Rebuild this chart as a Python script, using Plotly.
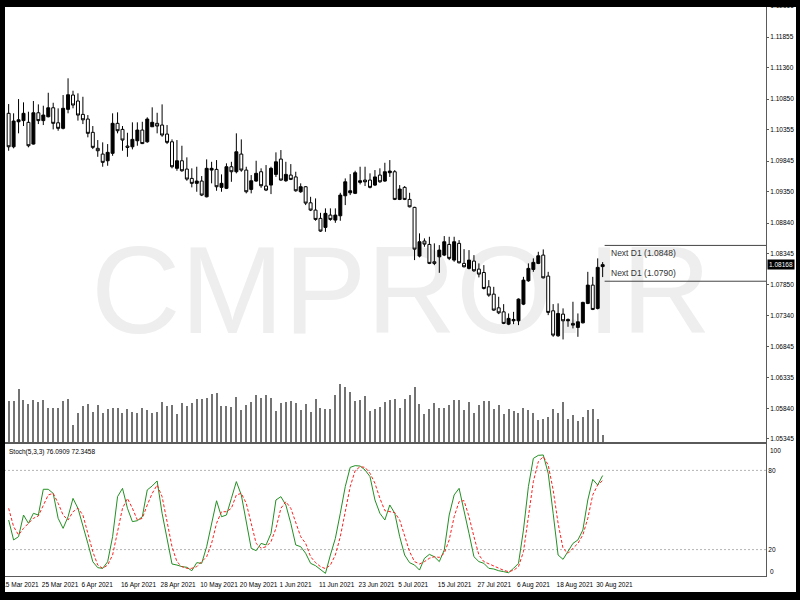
import numpy as np
import pandas as pd
import plotly.graph_objects as go

# ---------------- data ----------------
dates = pd.bdate_range("2021-03-16", "2021-08-31")  # 121 daily bars

opens = [1.10619,1.10077,1.10482,1.10501,1.10473,1.10121,1.10628,1.10501,1.10563,1.10709,
         1.10466,1.10376,1.10683,1.10915,1.10818,1.10602,1.10526,1.10311,1.10052,1.09959,
         1.09851,1.09971,1.10457,1.10359,1.10089,1.10077,1.10175,1.10348,1.10158,1.10401,
         1.10457,1.10429,1.10283,1.10158,1.09728,1.09851,1.09716,1.09565,1.09485,1.09522,
         1.09267,1.09700,1.09711,1.09420,1.09404,1.09754,1.09673,1.09959,1.09700,1.09387,
         1.09522,1.09673,1.09441,1.09457,1.09630,1.09878,1.09527,1.09619,1.09589,1.09349,
         1.09430,1.09170,1.09052,1.08918,1.08772,1.08971,1.08890,1.08960,1.09284,1.09332,
         1.09323,1.09501,1.09538,1.09538,1.09457,1.09619,1.09522,1.09657,1.09673,1.09225,
         1.09420,1.09225,1.09096,1.08307,1.08550,1.08496,1.08215,1.08295,1.08323,1.08496,
         1.08242,1.08513,1.08189,1.08108,1.08226,1.08096,1.08041,1.07809,1.07691,1.07469,
         1.07404,1.07205,1.07259,1.07259,1.07529,1.07907,1.08091,1.08189,1.08323,1.07983,
         1.07421,1.07016,1.07367,1.07281,1.07217,1.07152,1.07226,1.07541,1.07837,1.07460,
         1.08137]
highs = [1.10769,1.10619,1.10850,1.10797,1.10645,1.10818,1.10764,1.10742,1.10952,1.10790,
         1.10700,1.10915,1.11186,1.10985,1.10943,1.10887,1.10591,1.10413,1.10186,1.10149,
         1.10121,1.10619,1.10635,1.10413,1.10304,1.10473,1.10473,1.10482,1.10554,1.10716,
         1.10628,1.10764,1.10429,1.10197,1.10186,1.10094,1.09906,1.09728,1.09754,1.09603,
         1.09873,1.09834,1.09862,1.09630,1.09809,1.09834,1.10295,1.10197,1.09754,1.09619,
         1.09851,1.09728,1.09781,1.09754,1.09987,1.10024,1.09834,1.09797,1.09673,1.09485,
         1.09441,1.09267,1.09241,1.09008,1.09080,1.09080,1.09080,1.09332,1.09565,1.09635,
         1.09689,1.09754,1.09754,1.09647,1.09700,1.09728,1.09818,1.09862,1.09700,1.09457,
         1.09441,1.09332,1.09105,1.08675,1.08594,1.08620,1.08513,1.08485,1.08631,1.08620,
         1.08620,1.08566,1.08419,1.08404,1.08323,1.08189,1.08161,1.07918,1.07809,1.07648,
         1.07529,1.07378,1.07404,1.07621,1.07971,1.08189,1.08270,1.08377,1.08415,1.08052,
         1.07529,1.07541,1.07460,1.07297,1.07567,1.07378,1.07567,1.08052,1.07971,1.08270,
         1.08210]
lows = [1.10013,1.10052,1.10295,1.10413,1.10068,1.10113,1.10445,1.10429,1.10554,1.10359,
        1.10337,1.10359,1.10619,1.10700,1.10501,1.10445,1.10230,1.10040,1.09915,1.09754,
        1.09770,1.09931,1.10295,1.10013,1.09915,1.10035,1.10094,1.10121,1.10142,1.10401,
        1.10295,1.10239,1.10121,1.09728,1.09689,1.09673,1.09527,1.09420,1.09349,1.09279,
        1.09258,1.09485,1.09365,1.09349,1.09392,1.09510,1.09647,1.09673,1.09323,1.09323,
        1.09510,1.09413,1.09360,1.09311,1.09589,1.09527,1.09510,1.09538,1.09349,1.09332,
        1.09133,1.09036,1.08879,1.08700,1.08700,1.08879,1.08846,1.08879,1.09133,1.09295,
        1.09311,1.09468,1.09441,1.09404,1.09441,1.09494,1.09510,1.09589,1.09214,1.09214,
        1.09214,1.09096,1.08242,1.08286,1.08458,1.08177,1.08161,1.08036,1.08307,1.08242,
        1.08215,1.08189,1.08124,1.08091,1.08052,1.07962,1.07767,1.07648,1.07421,1.07367,
        1.07205,1.07189,1.07205,1.07189,1.07513,1.07891,1.08052,1.08177,1.07945,1.07351,
        1.07000,1.07000,1.06957,1.07162,1.07136,1.07000,1.07217,1.07529,1.07432,1.07443,
        1.07967]
closes = [1.10077,1.10494,1.10514,1.10619,1.10094,1.10628,1.10501,1.10591,1.10709,1.10457,
          1.10376,1.10700,1.10920,1.10753,1.10591,1.10514,1.10295,1.10068,1.10013,1.09825,
          1.09987,1.10457,1.10337,1.10186,1.10068,1.10197,1.10348,1.10129,1.10526,1.10473,
          1.10413,1.10267,1.10149,1.09754,1.09851,1.09689,1.09554,1.09485,1.09522,1.09295,
          1.09728,1.09728,1.09430,1.09485,1.09754,1.09673,1.09996,1.09700,1.09349,1.09527,
          1.09647,1.09446,1.09376,1.09728,1.09834,1.09538,1.09630,1.09549,1.09365,1.09430,
          1.09165,1.09052,1.08901,1.08712,1.08999,1.08901,1.08971,1.09295,1.09510,1.09365,
          1.09657,1.09527,1.09510,1.09420,1.09589,1.09510,1.09673,1.09684,1.09225,1.09392,
          1.09225,1.09105,1.08419,1.08539,1.08501,1.08189,1.08189,1.08404,1.08539,1.08270,
          1.08539,1.08198,1.08134,1.08242,1.08069,1.08015,1.07783,1.07675,1.07432,1.07388,
          1.07217,1.07298,1.07281,1.07610,1.07918,1.08108,1.08205,1.08312,1.07955,1.07395,
          1.07027,1.07378,1.07259,1.07259,1.07189,1.07243,1.07557,1.07837,1.07443,1.08124,
          1.08168]

volumes = [122,122,160,125,113,125,119,127,103,103,
           103,122,128,52,86,109,114,91,111,86,
           100,101,103,86,100,91,87,103,97,86,
           89,119,107,112,83,118,107,117,130,128,
           131,145,148,109,109,105,134,97,111,119,
           140,133,140,133,94,116,119,122,118,
           95,113,89,130,102,98,99,142,175,165,
           150,122,125,137,94,100,105,119,125,128,
           103,130,142,165,113,85,99,117,103,103,
           110,127,125,97,119,88,112,122,124,100,
           112,85,99,93,88,101,95,88,65,68,
           75,99,86,119,68,80,64,74,97,99,
           70,22]

stoch_k = [42.4,27.3,29.8,46.2,39.9,47.5,46.2,65.7,65.7,62.6,
           43.7,36.1,44.9,58.8,51.3,38.6,24.7,10.8,6.3,5.8,
           10.8,29.8,60.1,66.4,51.3,41.2,41.9,44.9,65.2,68.2,
           72.0,47.5,27.3,9.1,8.3,7.1,6.6,4.0,10.1,9.6,
           22.2,39.9,57.0,44.9,46.2,58.8,71.5,61.4,39.9,21.0,
           19.2,24.7,23.5,32.3,57.6,60.1,53.8,39.9,23.5,22.2,
           17.2,9.6,7.8,5.1,2.0,15.9,28.5,47.5,67.7,82.3,
           83.6,83.3,80.3,75.3,57.6,47.5,42.4,53.8,47.5,29.8,
           15.9,10.1,8.3,4.5,13.4,16.4,14.6,10.9,19.7,46.2,
           61.4,66.4,50.0,32.3,14.6,10.9,9.6,5.8,5.3,4.0,
           3.3,2.5,5.8,9.6,34.8,67.7,89.1,91.4,91.7,77.8,
           47.5,15.9,12.6,18.4,24.7,27.3,34.8,57.6,73.2,68.9,
           76.0909]
stoch_d = [51.3,37.4,31.1,36.1,39.9,43.7,45.5,53.8,61.4,62.6,
           55.1,46.2,42.4,48.7,51.3,46.2,32.3,18.4,8.3,5.8,
           8.3,15.9,33.6,51.3,58.8,51.3,42.4,43.7,53.8,62.6,
           68.9,60.1,41.2,22.2,10.8,7.1,5.8,5.8,7.1,10.8,
           14.6,24.7,39.9,48.7,48.7,51.3,61.4,62.6,55.1,39.9,
           24.7,21.0,22.2,26.0,36.1,51.3,56.3,51.3,39.9,29.8,
           24.7,14.6,10.1,7.1,5.6,8.3,15.9,29.8,48.7,67.7,
           79.8,82.8,82.3,77.8,70.2,58.8,49.5,48.7,48.0,42.4,
           31.1,18.4,10.9,9.1,10.9,13.4,14.6,14.1,17.2,27.3,
           44.9,56.3,57.1,44.9,29.8,15.9,10.9,9.1,7.6,5.6,
           4.3,3.3,4.3,7.1,18.4,44.9,71.5,86.6,90.4,84.1,
           65.2,39.9,20.9,17.2,20.9,24.7,31.1,43.7,61.4,68.9,
           72.3458]

price_ticks = [1.12365, 1.11855, 1.11360, 1.10850, 1.10355, 1.09845, 1.09350,
               1.08840, 1.08345, 1.07850, 1.07340, 1.06845, 1.06335, 1.05840, 1.05345]
stoch_levels = [80, 20]
stoch_axis_ticks = [80, 20]
stoch_edge_ticks = [100, 0]
next_d1_levels = [1.0848, 1.0790]
date_label_days = ["2021-03-15", "2021-03-25", "2021-04-06", "2021-04-16", "2021-04-28",
                   "2021-05-10", "2021-05-20", "2021-06-01", "2021-06-11", "2021-06-23",
                   "2021-07-05", "2021-07-15", "2021-07-27", "2021-08-06", "2021-08-18",
                   "2021-08-30"]
watermark_text = "CMPRO.IR"

# ---------------- geometry ----------------
W, H = 800, 600
BAR0_PX, BAR_STEP = 8.65, 4.95        # pixel of first bar, pixels per bar
PLOT_RIGHT = 766                        # price-scale line
PRICE_TOP, PRICE_BOT = 0, 442
STOCH_TOP, STOCH_BOT = 444, 576
P_REF, P_REF_PX, PX_PER_UNIT = 1.11855, 37, 6175.0

def px_to_x(px):
    return (px - BAR0_PX) / BAR_STEP

def px_to_p(py):
    return P_REF - (py - P_REF_PX) / PX_PER_UNIT

x_idx = np.arange(len(dates))
x_range = [px_to_x(0), px_to_x(PLOT_RIGHT)]
p_range = [px_to_p(PRICE_BOT), px_to_p(PRICE_TOP)]
price_dom = [1 - PRICE_BOT / H, 1 - PRICE_TOP / H]
stoch_dom = [1 - STOCH_BOT / H, 1 - STOCH_TOP / H]

start = np.datetime64(dates[0].date())
tick_pos = [max(float(np.busday_count(start, np.datetime64(d))), x_range[0] + 0.02)
            for d in date_label_days]
tick_txt = [f"{pd.Timestamp(d).day} {pd.Timestamp(d):%b %Y}" for d in date_label_days]

FONT = "Liberation Sans, Arial, sans-serif"
AX = "#5a5a5a"
FS = 6.5

fig = go.Figure()

# watermark: text of an invisible bar so it stays beneath the candles
wm_top, wm_bot = px_to_p(215), px_to_p(365)
fig.add_trace(go.Bar(x=[px_to_x(401)], y=[wm_top - wm_bot], base=[wm_bot], width=[130],
                     marker=dict(color="rgba(0,0,0,0)", line=dict(width=0)),
                     text=[watermark_text], textposition="inside", insidetextanchor="middle",
                     constraintext="none", textangle=0,
                     textfont=dict(family=FONT, size=124, color="#eeeeee"),
                     xaxis="x", yaxis="y", showlegend=False, hoverinfo="skip"))

# volumes
fig.add_trace(go.Bar(x=x_idx, y=volumes, width=0.22,
                     marker=dict(color="#737373", line=dict(width=0)),
                     xaxis="x", yaxis="y4", showlegend=False, hoverinfo="skip"))

# candles
fig.add_trace(go.Candlestick(x=x_idx, open=opens, high=highs, low=lows, close=closes,
                             increasing=dict(line=dict(color="black", width=1), fillcolor="black"),
                             decreasing=dict(line=dict(color="black", width=1), fillcolor="white"),
                             whiskerwidth=0, xaxis="x", yaxis="y", showlegend=False,
                             hoverinfo="skip"))

# stochastic
fig.add_trace(go.Scatter(x=x_idx, y=stoch_k, mode="lines", line=dict(color="#238f23", width=1),
                         xaxis="x2", yaxis="y2", showlegend=False, hoverinfo="skip"))
fig.add_trace(go.Scatter(x=x_idx, y=stoch_d, mode="lines",
                         line=dict(color="#ff2020", width=1, dash="3px,2px"),
                         xaxis="x2", yaxis="y2", showlegend=False, hoverinfo="skip"))

shapes = []
for lv in stoch_levels:
    shapes.append(dict(type="line", xref="x2", yref="y2", x0=x_range[0], x1=x_range[1],
                       y0=lv, y1=lv, line=dict(color="#b4b4b4", width=1, dash="2px,2px"),
                       layer="below"))
n = len(dates)
for lv in next_d1_levels:
    shapes.append(dict(type="line", xref="x", yref="y", x0=n - 1 + 0.4, x1=x_range[1],
                       y0=lv, y1=lv, line=dict(color="#444444", width=1)))
# black window frame
for x0, x1, y0, y1 in [(0, 5, 0, H), (796, W, 0, H), (0, W, 0, 7), (0, W, 592, H)]:
    shapes.append(dict(type="rect", xref="paper", yref="paper",
                       x0=x0 / W, x1=x1 / W, y0=1 - y1 / H, y1=1 - y0 / H,
                       fillcolor="black", line=dict(width=0), layer="above"))

annotations = [
    dict(text=f"Next D1 ({next_d1_levels[0]:.4f})", xref="x", yref="y", x=n - 1 + 1.2,
         y=next_d1_levels[0], xanchor="left", yanchor="top", yshift=-1, showarrow=False,
         font=dict(family=FONT, size=8.5, color="#333333")),
    dict(text=f"Next D1 ({next_d1_levels[1]:.4f})", xref="x", yref="y", x=n - 1 + 1.2,
         y=next_d1_levels[1], xanchor="left", yanchor="bottom", yshift=1, showarrow=False,
         font=dict(family=FONT, size=8.5, color="#333333")),
    dict(text=f"{closes[-1]:.5f}", xref="paper", yref="y", x=PLOT_RIGHT / W, y=closes[-1],
         xanchor="left", yanchor="middle", showarrow=False, bgcolor="black", borderpad=1,
         xshift=1, font=dict(family=FONT, size=FS, color="white")),
    dict(text=f"Stoch(5,3,3) {stoch_k[-1]:.4f} {stoch_d[-1]:.4f}", xref="paper", yref="paper",
         x=7 / W, y=1 - 452 / H, xanchor="left", yanchor="middle", showarrow=False,
         font=dict(family=FONT, size=FS, color="black")),
]
# MetaTrader prints the 100 / 0 bounds just inside the indicator window
for v, shift in zip(stoch_edge_ticks, [-6, 5]):
    annotations.append(dict(text=str(v), xref="paper", yref="y2", x=(PLOT_RIGHT + 2) / W, y=v,
                            xanchor="left", yanchor="middle", yshift=shift, showarrow=False,
                            font=dict(family=FONT, size=FS, color="black")))

tickfont = dict(family=FONT, size=FS, color="black")
fig.update_layout(
    width=W, height=H, margin=dict(l=0, r=0, t=0, b=0, pad=0),
    paper_bgcolor="white", plot_bgcolor="white", showlegend=False,
    hovermode=False, boxgap=0.4, boxgroupgap=0, bargap=0,
    xaxis=dict(domain=[0, PLOT_RIGHT / W], range=x_range, anchor="y", showgrid=False,
               zeroline=False, showticklabels=False, ticks="", showline=True,
               linecolor=AX, linewidth=1, rangeslider=dict(visible=False), fixedrange=True),
    yaxis=dict(domain=price_dom, range=p_range, side="right", anchor="x", showgrid=False,
               zeroline=False, tickvals=price_ticks, ticktext=[f"{v:.5f}" for v in price_ticks],
               ticks="outside", ticklen=2, tickcolor=AX, showline=True, linecolor=AX,
               linewidth=1, tickfont=tickfont, fixedrange=True),
    yaxis4=dict(domain=price_dom, range=[0, 3 * (PRICE_BOT - PRICE_TOP)], overlaying="y",
                anchor="x", visible=False, fixedrange=True),
    xaxis2=dict(domain=[0, PLOT_RIGHT / W], range=x_range, anchor="y2", matches="x",
                showgrid=False, zeroline=False, tickvals=tick_pos, ticktext=tick_txt,
                ticklabelposition="outside right", tickangle=0, ticklabelshift=-2,
                ticklabelstandoff=2, ticks="", showline=True,
                mirror=True, linecolor=AX, linewidth=1, tickfont=tickfont, fixedrange=True),
    yaxis2=dict(domain=stoch_dom, range=[0, 100], side="right", anchor="x2", showgrid=False,
                zeroline=False, tickvals=stoch_axis_ticks,
                ticktext=[str(v) for v in stoch_axis_ticks],
                ticks="", showline=True, linecolor=AX, linewidth=1, tickfont=tickfont,
                fixedrange=True),
    shapes=shapes, annotations=annotations,
)

fig.write_html("out.html", config={"displayModeBar": False},
               post_script="document.body.style.margin='0px';"
                           "document.body.style.overflow='hidden';")
